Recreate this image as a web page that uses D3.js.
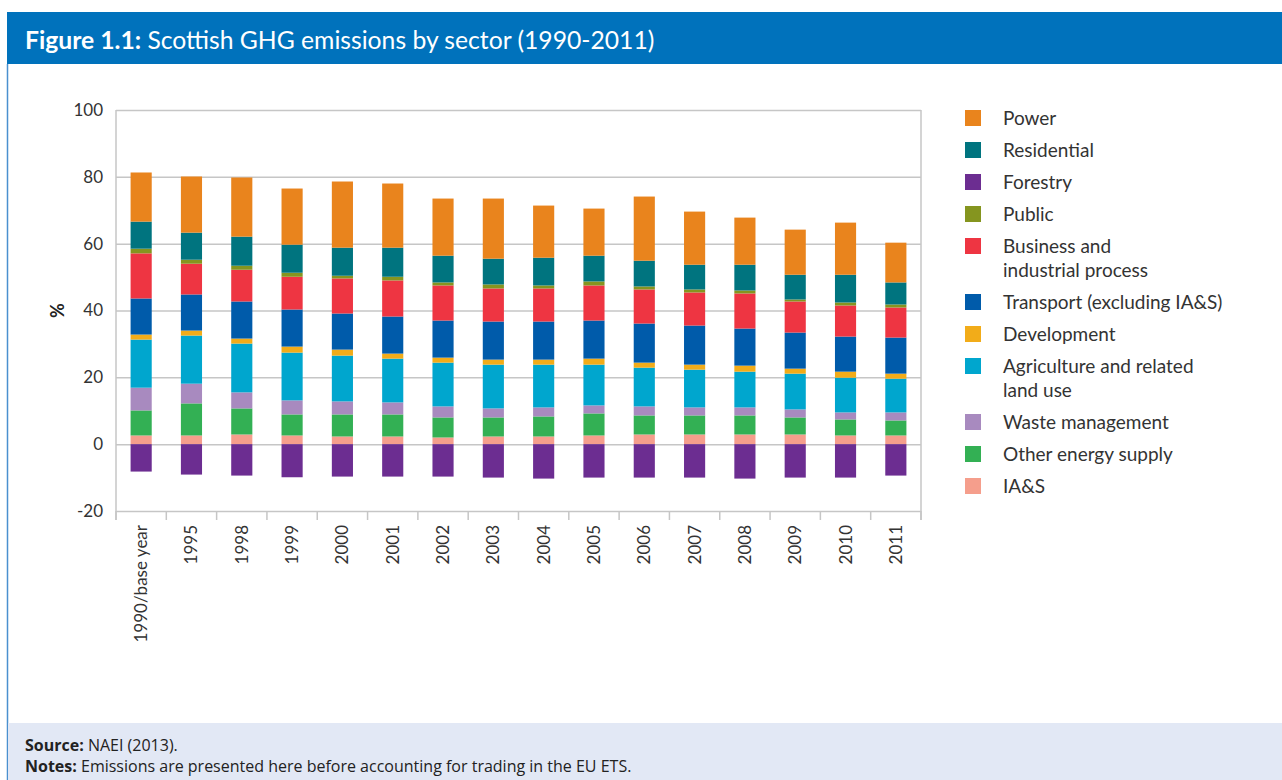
<!DOCTYPE html>
<html>
<head>
<meta charset="utf-8">
<script src="https://cdn.jsdelivr.net/npm/d3@7"></script>
<style>
  body { margin: 0; background: #fff; }
  svg text { font-family: Lato, "Open Sans", sans-serif; }
</style>
</head>
<body>
<div id="chart"></div>
<script>
// categories along the x axis
const years = ["1990/base year", "1995", "1998", "1999", "2000", "2001", "2002", "2003",
               "2004", "2005", "2006", "2007", "2008", "2009", "2010", "2011"];

// values (% of base year)
const iaS         = [2.6, 2.6, 2.9, 2.6, 2.3, 2.3, 2.0, 2.3, 2.3, 2.6, 2.9, 2.9, 2.9, 2.9, 2.6, 2.6];
const otherEnergy = [7.5, 9.6, 7.8, 6.3, 6.6, 6.6, 6.0, 5.7, 6.0, 6.6, 5.7, 5.7, 5.7, 5.1, 4.8, 4.5];
const waste       = [6.8, 5.9, 4.8, 4.2, 3.9, 3.6, 3.3, 2.7, 2.7, 2.4, 2.7, 2.4, 2.4, 2.4, 2.1, 2.4];
const agriculture = [14.4, 14.4, 14.6, 14.3, 13.7, 13.1, 13.1, 13.1, 12.8, 12.2, 11.6, 11.3, 10.7, 10.7, 10.4, 10.1];
const development = [1.5, 1.5, 1.5, 1.8, 1.8, 1.5, 1.5, 1.5, 1.5, 1.8, 1.5, 1.5, 1.8, 1.5, 1.8, 1.5];
const transport   = [10.8, 10.8, 11.1, 11.1, 10.8, 11.1, 11.1, 11.4, 11.4, 11.4, 11.7, 11.7, 11.1, 10.8, 10.5, 10.8];
const business    = [13.5, 9.2, 9.5, 9.8, 10.5, 10.8, 10.5, 9.9, 9.9, 10.5, 10.2, 9.9, 10.5, 9.3, 9.3, 9.0];
const publicSec   = [1.4, 1.2, 1.2, 1.2, 0.8, 1.1, 0.9, 1.2, 0.9, 1.2, 0.9, 0.9, 0.9, 0.6, 0.9, 0.9];
const residential = [8.1, 8.1, 8.7, 8.4, 8.4, 8.7, 8.0, 7.7, 8.3, 7.7, 7.7, 7.4, 7.7, 7.4, 8.3, 6.6];
const power       = [14.7, 16.8, 17.7, 16.8, 19.8, 19.2, 17.1, 18.0, 15.6, 14.1, 19.2, 15.9, 14.1, 13.5, 15.6, 11.9];
const forestry    = [-8.2, -9.1, -9.4, -9.9, -9.7, -9.7, -9.7, -10.0, -10.3, -10.0, -10.0, -10.0, -10.3, -10.0, -10.0, -9.4];

const yTicks = [-20, 0, 20, 40, 60, 80, 100];

// stacking order, bottom up
const series = [
  {key: "IA&S", values: iaS, color: "#f59e8c"},
  {key: "Other energy supply", values: otherEnergy, color: "#33b054"},
  {key: "Waste management", values: waste, color: "#a88abf"},
  {key: "Agriculture and related land use", values: agriculture, color: "#00a6ce"},
  {key: "Development", values: development, color: "#f2ac19"},
  {key: "Transport (excluding IA&S)", values: transport, color: "#005baa"},
  {key: "Business and industrial process", values: business, color: "#ee3542"},
  {key: "Public", values: publicSec, color: "#85951f"},
  {key: "Residential", values: residential, color: "#00747f"},
  {key: "Power", values: power, color: "#e9841d"}
];
const forestryColor = "#6c2d91";

// legend order with line breaks
const legendItems = [
  {lines: ["Power"], color: "#e9841d"},
  {lines: ["Residential"], color: "#00747f"},
  {lines: ["Forestry"], color: forestryColor},
  {lines: ["Public"], color: "#85951f"},
  {lines: ["Business and", "industrial process"], color: "#ee3542"},
  {lines: ["Transport (excluding IA&S)"], color: "#005baa"},
  {lines: ["Development"], color: "#f2ac19"},
  {lines: ["Agriculture and related", "land use"], color: "#00a6ce"},
  {lines: ["Waste management"], color: "#a88abf"},
  {lines: ["Other energy supply"], color: "#33b054"},
  {lines: ["IA&S"], color: "#f59e8c"}
];

const W = 1282, H = 780;
const svg = d3.select("#chart").append("svg")
    .attr("width", W)
    .attr("height", H);

// frame: header, left rule, footer
svg.append("rect").attr("x", 7).attr("y", 12).attr("width", W - 7).attr("height", 52).attr("fill", "#0072bc");
svg.append("line").attr("x1", 7.5).attr("x2", 7.5).attr("y1", 64).attr("y2", H)
    .attr("stroke", "#4a90cf").attr("stroke-width", 1.5);
svg.append("rect").attr("x", 8).attr("y", 723).attr("width", W - 8).attr("height", H - 723).attr("fill", "#e2e8f5");

const title = svg.append("text").attr("x", 25).attr("y", 49)
    .attr("fill", "#fff").attr("font-size", 24.7);
title.append("tspan").attr("font-weight", "bold").text("Figure 1.1:");
title.append("tspan").text(" Scottish GHG emissions by sector (1990-2011)");

const src = svg.append("text").attr("x", 25).attr("y", 751).attr("font-size", 16)
    .attr("fill", "#222").style("font-family", "'Open Sans', sans-serif");
src.append("tspan").attr("font-weight", "bold").text("Source:");
src.append("tspan").text(" NAEI (2013).");
const notes = svg.append("text").attr("x", 25).attr("y", 772).attr("font-size", 16)
    .attr("fill", "#222").style("font-family", "'Open Sans', sans-serif");
notes.append("tspan").attr("font-weight", "bold").text("Notes:");
notes.append("tspan").text(" Emissions are presented here before accounting for trading in the EU ETS.");

// plot area
const plotL = 116, plotR = 921, plotT = 110, plotB = 511;

const x = d3.scaleBand().domain(years).range([plotL, plotR])
    .paddingInner(0.58).paddingOuter(0.29);
const y = d3.scaleLinear().domain([-20, 100]).range([plotB, plotT]);

const gridColor = "#c6c6c6";

// horizontal gridlines + tick labels
const yAxis = svg.append("g")
    .attr("transform", `translate(${plotL},0)`)
    .call(d3.axisLeft(y).tickValues(yTicks).tickFormat(d => String(d))
      .tickSize(-(plotR - plotL)).tickPadding(13));
yAxis.select(".domain").remove();
yAxis.selectAll(".tick line").attr("stroke", gridColor).attr("stroke-width", 1.5);
yAxis.selectAll(".tick text").attr("font-size", 17).attr("fill", "#333")
    .style("font-family", "Lato, sans-serif");

// left and right frame lines, bottom ticks between categories
svg.append("line").attr("x1", plotL).attr("x2", plotL).attr("y1", plotT).attr("y2", plotB + 9)
    .attr("stroke", gridColor).attr("stroke-width", 1.5);
svg.append("line").attr("x1", plotR).attr("x2", plotR).attr("y1", plotT).attr("y2", plotB + 9)
    .attr("stroke", gridColor).attr("stroke-width", 1.5);
svg.append("g").selectAll("line")
    .data(d3.range(years.length + 1))
    .join("line")
    .attr("x1", i => plotL + i * x.step())
    .attr("x2", i => plotL + i * x.step())
    .attr("y1", plotB).attr("y2", plotB + 9)
    .attr("stroke", gridColor).attr("stroke-width", 1.5);

// x labels, rotated
svg.append("g").selectAll("text")
    .data(years)
    .join("text")
    .attr("transform", d => `translate(${x(d) + x.bandwidth() / 2 + 6},${plotB + 14}) rotate(-90)`)
    .attr("text-anchor", "end")
    .attr("font-size", 17)
    .attr("fill", "#333")
    .text(d => d);

// y axis title
svg.append("text")
    .attr("transform", `translate(64,${(plotT + plotB) / 2}) rotate(-90)`)
    .attr("text-anchor", "middle")
    .attr("font-size", 18)
    .attr("font-weight", "bold")
    .attr("fill", "#222")
    .text("%");

// stacked positive bars
const table = years.map((yr, i) => {
  const row = {year: yr};
  series.forEach(s => { row[s.key] = s.values[i]; });
  return row;
});
const stacked = d3.stack().keys(series.map(s => s.key))(table);

svg.append("g").selectAll("g")
    .data(stacked)
    .join("g")
    .attr("fill", (d, i) => series[i].color)
    .selectAll("rect")
    .data(d => d)
    .join("rect")
    .attr("x", d => x(d.data.year))
    .attr("width", x.bandwidth())
    .attr("y", d => y(d[1]))
    .attr("height", d => y(d[0]) - y(d[1]));

// forestry below zero
svg.append("g").attr("fill", forestryColor).selectAll("rect")
    .data(forestry)
    .join("rect")
    .attr("x", (d, i) => x(years[i]))
    .attr("width", x.bandwidth())
    .attr("y", y(0))
    .attr("height", d => y(d) - y(0));

// legend
const legend = svg.append("g").attr("transform", "translate(965,0)");
let ly = 118;
legendItems.forEach(item => {
  const g = legend.append("g").attr("transform", `translate(0,${ly})`);
  g.append("rect").attr("x", 0).attr("y", -8).attr("width", 16).attr("height", 16).attr("fill", item.color);
  item.lines.forEach((ln, j) => {
    g.append("text").attr("x", 38).attr("y", 7 + j * 24)
      .attr("font-size", 19).attr("fill", "#333").text(ln);
  });
  ly += 32 + (item.lines.length - 1) * 24;
});
</script>
</body>
</html>
